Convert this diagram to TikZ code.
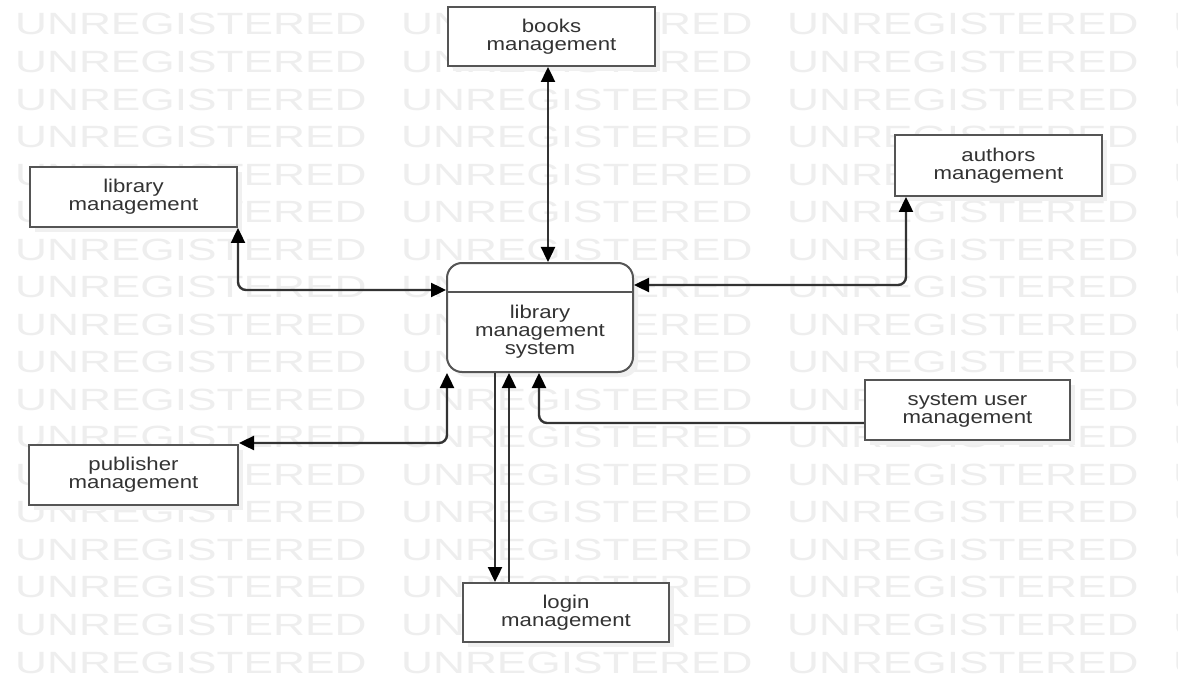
\documentclass[tikz,border=0pt]{standalone}
\usepackage{fontspec}
\setmainfont{Liberation Sans}
\newfontfamily\lblfont[FakeStretch=1.2]{Liberation Sans}
\newfontfamily\wmfont[FakeStretch=1.44]{Liberation Sans}
\usetikzlibrary{arrows.meta,calc,shadows}
\definecolor{wmgray}{HTML}{EEEEEE}
\definecolor{linegray}{HTML}{333333}
\definecolor{boxgray}{HTML}{555555}
\definecolor{txtgray}{HTML}{333333}
\begin{document}
\begin{tikzpicture}[x=1pt,y=-1pt,
  wm/.style={text=wmgray, inner sep=0pt, font=\wmfont\fontsize{30.7}{30.7}\selectfont},
  box/.style={draw=boxgray, line width=2pt, fill=white, align=center, inner sep=0pt,
    text=txtgray, font=\lblfont\fontsize{18.5}{18}\selectfont,
    drop shadow={shadow xshift=5pt, shadow yshift=-5pt, fill=black!6, opacity=1}},
  lbl/.style={align=center, inner sep=0pt, text=txtgray, font=\lblfont\fontsize{18.5}{18}\selectfont},
  conn/.style={draw=linegray, line width=2.4pt, rounded corners=8pt},
  endarr/.style={-{Triangle[length=15pt,width=14pt,color=black]}},
  both++/.style={{Triangle[length=15pt,width=14pt,color=black]}-{Triangle[length=15pt,width=14pt,color=black]}}
]
\path[use as bounding box, fill=white] (0,0) rectangle (1178,679);
\begin{scope}
  \clip (0,0) rectangle (1178,679);
  \foreach \i in {0,...,17}{
    \foreach \j in {0,...,3}{
      \node[wm, anchor=base west] (wm\i-\j) at ({15+386*\j},{35+37.53*\i}) {UNREGISTERED};
    }
  }
\end{scope}

% boxes
\node[box, minimum width=207pt, minimum height=59pt] (books) at (551.5,36.5) {books\\management};
\node[box, minimum width=207pt, minimum height=60pt] (libm) at (133.5,197) {library\\management};
\node[box, minimum width=207pt, minimum height=61pt] (auth) at (998.5,165.5) {authors\\management};
\node[box, minimum width=205pt, minimum height=60pt] (suser) at (967.5,410) {system user\\management};
\node[box, minimum width=209pt, minimum height=60pt] (pub) at (133.5,475) {publisher\\management};
\node[box, minimum width=206pt, minimum height=59pt] (login) at (566,612.5) {login\\management};
\node[box, rounded corners=15pt, minimum width=186pt, minimum height=109pt] (sys) at (540,317.5) {};
\draw[draw=boxgray, line width=2pt] ([yshift=-30pt]sys.north west) -- ([yshift=-30pt]sys.north east);
\node[lbl] (systxt) at (540,332) {library\\management\\system};

% connectors
\draw[conn, both++] ([xshift=-3.5pt]books.south) -- ([xshift=-3.5pt]books.south |- sys.north);
\draw[conn, both++] (libm.south east) |- ([yshift=27.5pt]sys.west);
\draw[conn, both++] ([xshift=12pt]auth.south west) |- ([yshift=32.5pt]sys.east);
\draw[conn, both++] ([xshift=1pt]sys.south west) |- ([yshift=1pt]pub.north east);
\draw[conn, endarr] ([xshift=-45pt]sys.south) -- ([xshift=-45pt]sys.south |- login.north);
\draw[conn, endarr] ([xshift=-31pt]sys.south |- login.north) -- ([xshift=-31pt]sys.south);
\draw[conn, endarr] ([yshift=-13pt]suser.west) -| ([xshift=-1pt]sys.south);
\end{tikzpicture}
\end{document}
